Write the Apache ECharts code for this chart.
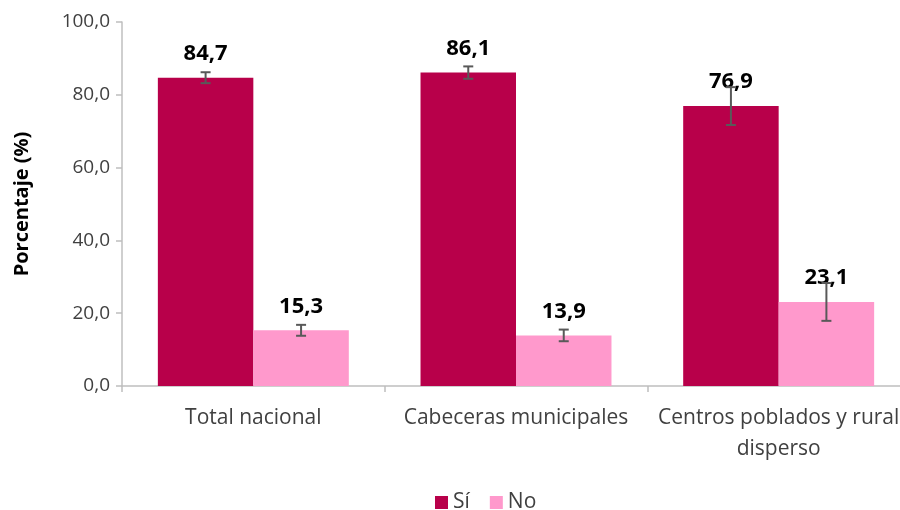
<!DOCTYPE html>
<html>
<head>
<meta charset="utf-8">
<script src="https://cdn.jsdelivr.net/npm/echarts@6/dist/echarts.min.js"></script>
<style>
  html, body { margin: 0; padding: 0; background: #fff; }
  #chart { width: 900px; height: 510px; }
</style>
</head>
<body>
<div id="chart"></div>
<script>
// datos
const categorias = ["Total nacional", "Cabeceras municipales", "Centros poblados y rural\ndisperso"];
const valoresSi = [84.7, 86.1, 76.9];
const valoresNo = [15.3, 13.9, 23.1];
// intervalos de confianza (inferior, superior)
const errorSi = [[83.2, 86.2], [84.4, 87.8], [71.7, 82.1]];
const errorNo = [[13.8, 16.8], [12.3, 15.5], [17.9, 28.3]];
const ticksY = [0, 20, 40, 60, 80, 100];

const colorSi = "#b8004a";
const colorNo = "#ff99cc";
const fuente = "'Open Sans', 'Noto Sans', sans-serif";

const chart = echarts.init(document.getElementById("chart"));

// dibuja la barra de error desplazada a la posicion de su barra
function errorBar(lado) {
  return function (params, api) {
    const idx = api.value(0);
    const low = api.coord([idx, api.value(1)]);
    const high = api.coord([idx, api.value(2)]);
    const banda = api.size([1, 0])[0];
    const anchoBarra = banda * 0.727 / 2;
    const x = low[0] + lado * anchoBarra / 2;
    const cap = 5;
    const estilo = { stroke: "#595959", lineWidth: 2 };
    return {
      type: "group",
      children: [
        { type: "line", shape: { x1: x, y1: high[1], x2: x, y2: low[1] }, style: estilo },
        { type: "line", shape: { x1: x - cap, y1: high[1], x2: x + cap, y2: high[1] }, style: estilo },
        { type: "line", shape: { x1: x - cap, y1: low[1], x2: x + cap, y2: low[1] }, style: estilo }
      ]
    };
  };
}

const etiqueta = {
  show: true,
  position: "top",
  distance: 13,
  color: "#000",
  fontWeight: "bold",
  fontSize: 22,
  fontFamily: fuente,
  formatter: p => p.value.toFixed(1).replace(".", ",")
};

chart.setOption({
  animation: false,
  textStyle: { fontFamily: fuente },
  grid: { left: 122, top: 22, width: 788, height: 364, outerBoundsMode: "none" },
  legend: {
    top: 487,
    left: 430,
    itemWidth: 13,
    itemHeight: 13,
    itemGap: 20,
    icon: "rect",
    textStyle: { fontSize: 21, color: "#404040", fontFamily: fuente },
    data: ["Sí", "No"]
  },
  xAxis: {
    type: "category",
    data: categorias,
    axisLine: { lineStyle: { color: "#bfbfbf", width: 1.5 } },
    axisTick: { show: true, interval: 0, length: 6, lineStyle: { color: "#bfbfbf", width: 1.5 } },
    axisLabel: { interval: 0, hideOverlap: false, fontSize: 21, color: "#404040", margin: 17, lineHeight: 31, fontFamily: fuente }
  },
  yAxis: {
    type: "value",
    min: ticksY[0],
    max: ticksY[ticksY.length - 1],
    interval: 20,
    name: "Porcentaje (%)",
    nameLocation: "middle",
    nameGap: 90,
    nameTextStyle: { fontSize: 20, fontWeight: "bold", color: "#000", fontFamily: fuente },
    axisLine: { show: true, lineStyle: { color: "#bfbfbf", width: 1.5 } },
    axisTick: { show: true, length: 6, lineStyle: { color: "#bfbfbf", width: 1.5 } },
    splitLine: { show: false },
    axisLabel: {
      fontSize: 19,
      color: "#404040",
      margin: 12,
      fontFamily: fuente,
      formatter: v => v.toFixed(1).replace(".", ",")
    }
  },
  series: [
    {
      name: "Sí",
      type: "bar",
      data: valoresSi,
      barGap: 0,
      barCategoryGap: "27.3%",
      itemStyle: { color: colorSi },
      label: etiqueta
    },
    {
      name: "No",
      type: "bar",
      data: valoresNo,
      itemStyle: { color: colorNo },
      label: etiqueta
    },
    {
      type: "custom",
      renderItem: errorBar(-1),
      data: errorSi.map((e, i) => [i, e[0], e[1]]),
      z: 10
    },
    {
      type: "custom",
      renderItem: errorBar(1),
      data: errorNo.map((e, i) => [i, e[0], e[1]]),
      z: 10
    }
  ]
});
</script>
</body>
</html>
